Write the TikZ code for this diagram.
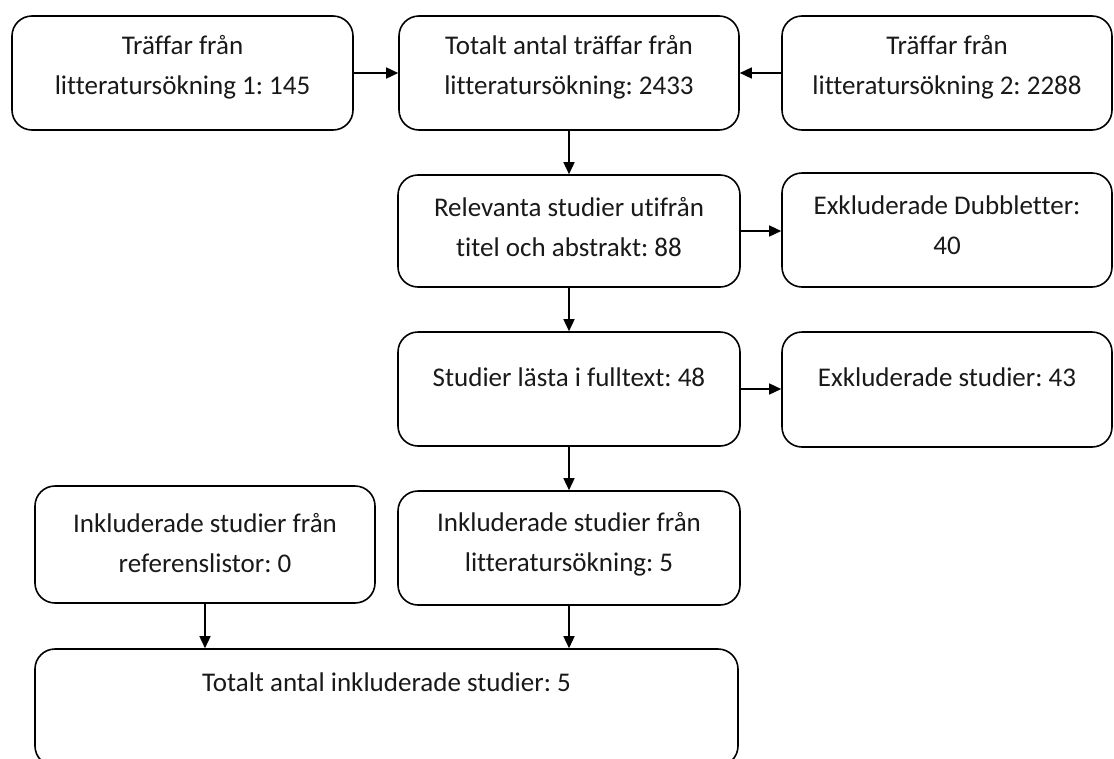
\documentclass[tikz,border=0pt]{standalone}
\usepackage{fontspec}
\setmainfont{Carlito}[Ligatures=NoCommon]
\usetikzlibrary{arrows.meta,positioning}
\frenchspacing

\tikzset{
    box/.style={draw, line width=1.6pt, rounded corners=20pt, inner sep=0pt},
    txt/.style={align=center, text=black!90, inner sep=0pt,
        font=\fontsize{27}{40}\selectfont},
    flow/.style={-{Triangle[length=12pt,width=11pt]}, line width=1.5pt}
}

\begin{document}
\begin{tikzpicture}[x=1pt,y=-1pt]
    \useasboundingbox (0,0) rectangle (1114,758);
    % boxes
    \node[box, minimum width=341pt, minimum height=114pt] (s1) at (182.5,73) {};
    \node[box, minimum width=340pt, minimum height=114pt] (tot) at (569,73) {};
    \node[box, minimum width=330pt, minimum height=114pt] (s2) at (947,73) {};
    \node[box, minimum width=342pt, minimum height=112pt] (rel) at (569,231) {};
    \node[box, minimum width=330pt, minimum height=114pt] (dub) at (947,230) {};
    \node[box, minimum width=342pt, minimum height=114pt] (full) at (569,389) {};
    \node[box, minimum width=330pt, minimum height=115pt] (exk) at (947,389.5) {};
    \node[box, minimum width=340pt, minimum height=117pt] (ref) at (205,544.5) {};
    \node[box, minimum width=342pt, minimum height=114pt] (ink) at (569,548) {};
    \node[box, minimum width=703pt, minimum height=117pt] (slut) at (386.5,707.5) {};
    % texts
    \node[txt] (s1t) at ([yshift=-52pt]s1.north) {Träffar från\\litteratursökning 1: 145};
    \node[txt] (tott) at ([yshift=-52pt]tot.north) {Totalt antal träffar från\\litteratursökning: 2433};
    \node[txt] (s2t) at ([yshift=-52pt]s2.north) {Träffar från\\litteratursökning 2: 2288};
    \node[txt] (relt) at ([yshift=-52.5pt]rel.north) {Relevanta studier utifrån\\titel och abstrakt: 88};
    \node[txt] (dubt) at ([yshift=-53pt]dub.north) {Exkluderade Dubbletter:\\40};
    \node[txt] (fullt) at ([yshift=-46pt]full.north) {Studier lästa i fulltext: 48};
    \node[txt] (exkt) at ([yshift=-46pt]exk.north) {Exkluderade studier: 43};
    \node[txt] (reft) at ([yshift=-57.5pt]ref.north) {Inkluderade studier från\\referenslistor: 0};
    \node[txt] (inkt) at ([yshift=-54pt]ink.north) {Inkluderade studier från\\litteratursökning: 5};
    \node[txt] (slutt) at ([yshift=-34pt]slut.north) {Totalt antal inkluderade studier: 5};
    % connectors
    \draw[flow] (s1) -- (tot);
    \draw[flow] (s2) -- (tot);
    \draw[flow] (tot) -- (rel);
    \draw[flow] (rel) -- (rel -| dub.west);
    \draw[flow] (rel) -- (full);
    \draw[flow] (full) -- (full -| exk.west);
    \draw[flow] (full) -- (ink);
    \draw[flow] (ref.south) -- (ref.south |- slut.north);
    \draw[flow] (ink.south) -- (ink.south |- slut.north);
\end{tikzpicture}
\end{document}
